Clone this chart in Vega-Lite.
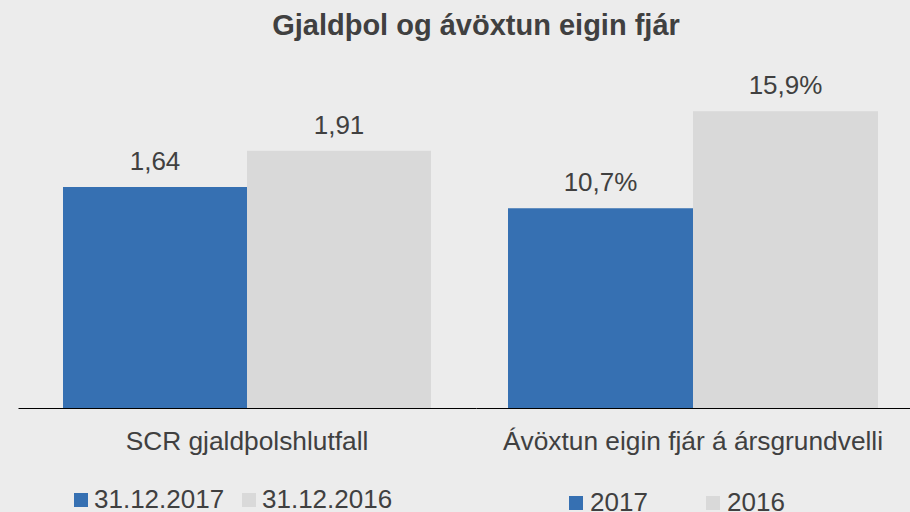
{
  "$schema": "https://vega.github.io/schema/vega-lite/v6.json",
  "background": "#ececec",
  "padding": {"left": 18, "top": 12, "right": 0, "bottom": 0},
  "title": {"text": "Gjaldþol og ávöxtun eigin fjár", "anchor": "middle", "fontSize": 29, "fontWeight": "bold", "color": "#404040", "font": "Liberation Sans", "offset": 19, "dx": 12},
  "config": {
    "locale": {"number": {"decimal": ",", "thousands": ".", "grouping": [3], "currency": ["", " kr."]}},
    "view": {"stroke": null},
    "font": "Liberation Sans",
    "concat": {"spacing": 0}
  },
  "data": {"values": [
    {"category": "SCR gjaldþolshlutfall", "series": "31.12.2017", "value": 1.64},
    {"category": "SCR gjaldþolshlutfall", "series": "31.12.2016", "value": 1.91},
    {"category": "Ávöxtun eigin fjár á ársgrundvelli", "series": "2017", "value": 0.107},
    {"category": "Ávöxtun eigin fjár á ársgrundvelli", "series": "2016", "value": 0.159}
  ]},
  "hconcat": [
    {
      "width": 458, "height": 348,
      "transform": [{"filter": "datum.category === 'SCR gjaldþolshlutfall'"}],
      "encoding": {
        "x": {"field": "category", "type": "nominal", "scale": {"paddingInner": 0, "paddingOuter": 0.1223},
          "axis": {"title": null, "labelAngle": 0, "ticks": false, "tickSize": 0, "labelPadding": 20, "labelFontSize": 26.3, "labelColor": "#404040", "domainColor": "#000000", "domainWidth": 1.2, "labelFont": "Liberation Sans", "labelLimit": 500}},
        "xOffset": {"field": "series", "type": "nominal", "sort": ["31.12.2017", "31.12.2016"], "scale": {"paddingInner": 0, "paddingOuter": 0}},
        "y": {"field": "value", "type": "quantitative", "scale": {"domain": [0, 2.5835], "nice": false, "zero": true}, "axis": null}
      },
      "layer": [
        {
          "mark": {"type": "bar"},
          "encoding": {
            "color": {"field": "series", "type": "nominal", "sort": ["31.12.2017", "31.12.2016"],
              "scale": {"domain": ["31.12.2017", "31.12.2016"], "range": ["#3670b2", "#d9d9d9"]},
              "legend": {"title": null, "orient": "none", "legendX": 50, "legendY": 427, "direction": "horizontal", "symbolType": "square", "symbolSize": 196, "symbolStrokeWidth": 0, "labelFontSize": 26, "labelColor": "#404040", "labelOffset": 0, "columnPadding": 11, "padding": 0, "labelFont": "Liberation Sans"}}
          }
        },
        {
          "mark": {"type": "text", "baseline": "alphabetic", "dy": -17, "fontSize": 26, "color": "#404040", "font": "Liberation Sans"},
          "encoding": {"text": {"field": "value", "type": "quantitative", "format": ".2f"}}
        }
      ]
    },
    {
      "width": 434, "height": 348,
      "transform": [{"filter": "datum.category === 'Ávöxtun eigin fjár á ársgrundvelli'"}],
      "encoding": {
        "x": {"field": "category", "type": "nominal", "scale": {"paddingInner": 0, "paddingOuter": 0.0865},
          "axis": {"title": null, "labelAngle": 0, "ticks": false, "tickSize": 0, "labelPadding": 20, "labelFontSize": 26.3, "labelColor": "#404040", "domainColor": "#000000", "domainWidth": 1.2, "labelFont": "Liberation Sans", "labelLimit": 500}},
        "xOffset": {"field": "series", "type": "nominal", "sort": ["2017", "2016"], "scale": {"paddingInner": 0, "paddingOuter": 0}},
        "y": {"field": "value", "type": "quantitative", "scale": {"domain": [0, 0.1865], "nice": false, "zero": true}, "axis": null}
      },
      "layer": [
        {
          "mark": {"type": "bar"},
          "encoding": {
            "color": {"field": "series", "type": "nominal", "sort": ["2017", "2016"],
              "scale": {"domain": ["2017", "2016"], "range": ["#3670b2", "#d9d9d9"]},
              "legend": {"title": null, "orient": "none", "legendX": 87, "legendY": 430, "direction": "horizontal", "symbolType": "square", "symbolSize": 196, "symbolStrokeWidth": 0, "labelFontSize": 26, "labelColor": "#404040", "labelOffset": 1, "columnPadding": 52, "padding": 0, "labelFont": "Liberation Sans"}}
          }
        },
        {
          "mark": {"type": "text", "baseline": "alphabetic", "dy": -17, "fontSize": 26, "color": "#404040", "font": "Liberation Sans"},
          "encoding": {"text": {"field": "value", "type": "quantitative", "format": ".1%"}}
        }
      ]
    }
  ],
  "resolve": {"scale": {"color": "independent", "y": "independent", "x": "independent", "xOffset": "independent"}, "legend": {"color": "independent"}}
}
